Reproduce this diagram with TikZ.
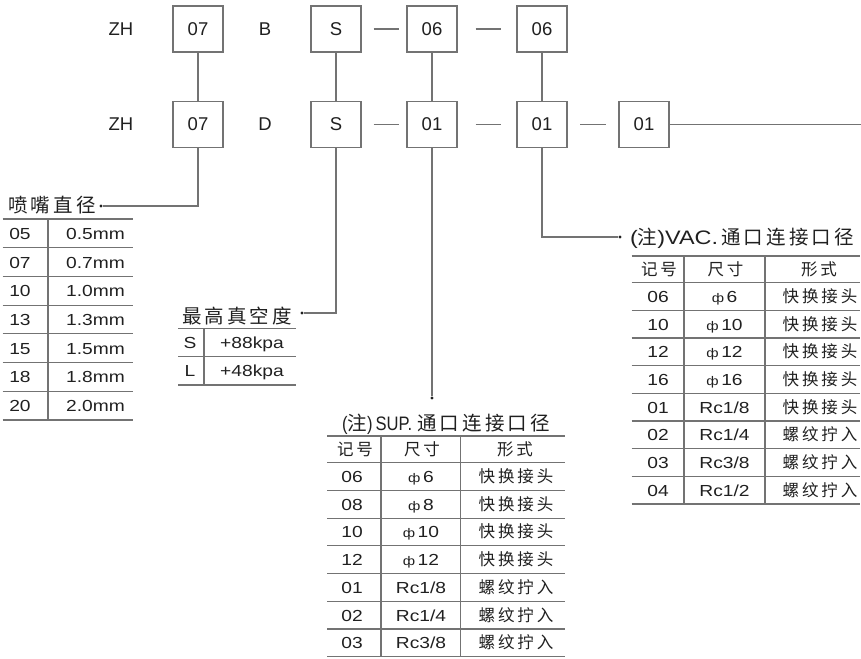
\documentclass[tikz,border=0pt]{standalone}
\usepackage{fontspec}
\setmainfont{Liberation Sans}
\newfontfamily\cjk{Noto Sans CJK SC}[LetterSpace=18]
\newfontfamily\cjkt{Noto Sans CJK SC}[LetterSpace=16]
\newfontfamily\wide{Liberation Sans}[FakeStretch=1.2]
\newfontfamily\narrow{Liberation Sans}[FakeStretch=0.85]
\definecolor{lc}{RGB}{115,115,115}
\definecolor{tc}{RGB}{32,32,32}
\newcommand\fy{{\fontsize{12.5}{12.5}\selectfont ф}\hspace{2.5pt}}
\tikzset{
 ln/.style={draw=lc, line width=1.2pt},
 bx/.style={draw=lc, line width=1.2pt, minimum width=50pt, minimum height=46pt, inner sep=0pt, font=\fontsize{18.5}{20}\selectfont, text=tc},
 lab/.style={font=\fontsize{18.5}{20}\selectfont, text=tc, inner sep=0pt},
 cell/.style={font=\wide\fontsize{16}{18}\selectfont, text=tc, inner sep=0pt, anchor=base},
 ccell/.style={font=\cjk\fontsize{16.5}{18}\selectfont, text=tc, inner sep=0pt, anchor=base},
 ttl/.style={font=\cjkt\fontsize{19.5}{22}\selectfont, text=tc, inner sep=0pt, anchor=base},
 dot/.style={circle, fill=tc, inner sep=0pt, minimum size=3.4pt},
}
\begin{document}
\begin{tikzpicture}[x=1pt,y=-1pt]
\useasboundingbox (0,0) rectangle (861,658);
% ---- first code row
\node[lab] (zh1) at (121,29) {ZH};
\node[bx] (a1) at (198,29) {07};
\node[lab] (bb) at (265,29) {B};
\node[bx] (a2) at (336,29) {S};
\node[bx] (a3) at (432,29) {06};
\node[bx] (a4) at (542,29) {06};
% ---- second code row
\node[lab] (zh2) at (121,124.5) {ZH};
\node[bx] (b1) at (198,124.5) {07};
\node[lab] (dd) at (265,124.5) {D};
\node[bx] (b2) at (336,124.5) {S};
\node[bx] (b3) at (432,124.5) {01};
\node[bx] (b4) at (542,124.5) {01};
\node[bx] (b5) at (644,124.5) {01};
% dashes
\draw[ln] ([xshift=12pt]a2.east) -- ([xshift=-7pt]a3.west);
\draw[ln] ([xshift=18pt]a3.east) -- ([xshift=-15.6pt]a4.west);
\draw[ln] ([xshift=12pt]b2.east) -- ([xshift=-7pt]b3.west);
\draw[ln] ([xshift=18pt]b3.east) -- ([xshift=-15.6pt]b4.west);
\draw[ln] ([xshift=12.7pt]b4.east) -- ([xshift=-12pt]b5.west);
% vertical links
\draw[ln] (a1) -- (b1);
\draw[ln] (a2) -- (b2);
\draw[ln] (a3) -- (b3);
\draw[ln] (a4) -- (b4);
\coordinate (re) at (861,124.5);
\draw[ln] (b5) -- (re);
% leaders
\node[dot] (d1) at (101,206) {};
\node[dot] (d2) at (302,313) {};
\node[dot] (d3) at (432,398) {};
\node[dot] (d4) at (620,237) {};
\draw[ln] (b1.south) |- (d1);
\draw[ln] (b2.south) |- (d2);
\draw[ln] (b3.south) -- (d3);
\draw[ln] (b4.south) |- (d4);
% titles
\node[ttl] (t1) at (52,212) {喷嘴直径};
\node[ttl] (t2) at (237,323) {最高真空度};
\node[ttl] (t3) at (446,430) {{\narrow (}注{\narrow )\hspace{3pt}SUP.\hspace{5pt}}通口连接口径};
\node[ttl] (t4) at (742,244) {{\wide (}注{\wide )VAC.\,}通口连接口径};
% ---- nozzle table
\draw[ln] (2.7,219) -- (133,219);
\draw[ln] (48,219) -- (48,420);
\foreach \c/\v [count=\i] in {05/0.5mm,07/0.7mm,10/1.0mm,13/1.3mm,15/1.5mm,18/1.8mm,20/2.0mm}{
  \node[cell] (nz\i c) at (20,{219+28.7*\i-14.35+6}) {\c};
  \node[cell] (nz\i v) at (95.5,{219+28.7*\i-14.35+6}) {\v};
  \draw[ln] (2.7,{219+28.7*\i}) -- (133,{219+28.7*\i});
}
% ---- vacuum table
\draw[ln] (178,328.3) -- (296,328.3);
\draw[ln] (178,356.7) -- (296,356.7);
\draw[ln] (178,385) -- (296,385);
\draw[ln] (204,328.3) -- (204,385);
\node[cell] (vs) at (190,348.5) {S};
\node[cell] (vsv) at (252,348.5) {+88kpa};
\node[cell] (vl) at (190,376.8) {L};
\node[cell] (vlv) at (252,376.8) {+48kpa};
% ---- SUP table
\draw[ln] (327,436) -- (565,436);
\draw[ln] (327,462.7) -- (565,462.7);
\draw[ln] (381,436) -- (381,656.7);
\draw[ln] (460.7,436) -- (460.7,656.7);
\node[ccell] (sh1) at (355,455.5) {记号};
\node[ccell] (sh2) at (422,455.5) {尺寸};
\node[ccell] (sh3) at (515,455.5) {形式};
\foreach \a/\b/\c [count=\i] in {06/{\fy6}/快换接头,08/{\fy8}/快换接头,10/{\fy10}/快换接头,12/{\fy12}/快换接头,01/{Rc1/8}/螺纹拧入,02/{Rc1/4}/螺纹拧入,03/{Rc3/8}/螺纹拧入}{
  \node[cell] (s\i a) at (352,{462.7+27.7*\i-13.85+6}) {\a};
  \node[cell] (s\i b) at (421,{462.7+27.7*\i-13.85+6}) {\b};
  \node[ccell] (s\i c) at (516,{462.7+27.7*\i-13.85+6}) {\c};
  \draw[ln] (327,{462.7+27.7*\i}) -- (565,{462.7+27.7*\i});
}
% ---- VAC table
\draw[ln] (631.7,256) -- (860,256);
\draw[ln] (631.7,282.7) -- (860,282.7);
\draw[ln] (684,256) -- (684,504);
\draw[ln] (765,256) -- (765,504);
\node[ccell] (vh1) at (659,275.5) {记号};
\node[ccell] (vh2) at (725.5,275.5) {尺寸};
\node[ccell] (vh3) at (819,275.5) {形式};
\foreach \a/\b/\c [count=\i] in {06/{\fy6}/快换接头,10/{\fy10}/快换接头,12/{\fy12}/快换接头,16/{\fy16}/快换接头,01/{Rc1/8}/快换接头,02/{Rc1/4}/螺纹拧入,03/{Rc3/8}/螺纹拧入,04/{Rc1/2}/螺纹拧入}{
  \node[cell] (v\i a) at (658,{282.7+27.66*\i-13.83+6}) {\a};
  \node[cell] (v\i b) at (724.5,{282.7+27.66*\i-13.83+6}) {\b};
  \node[ccell] (v\i c) at (820,{282.7+27.66*\i-13.83+6}) {\c};
  \draw[ln] (631.7,{282.7+27.66*\i}) -- (860,{282.7+27.66*\i});
}
\end{tikzpicture}
\end{document}
